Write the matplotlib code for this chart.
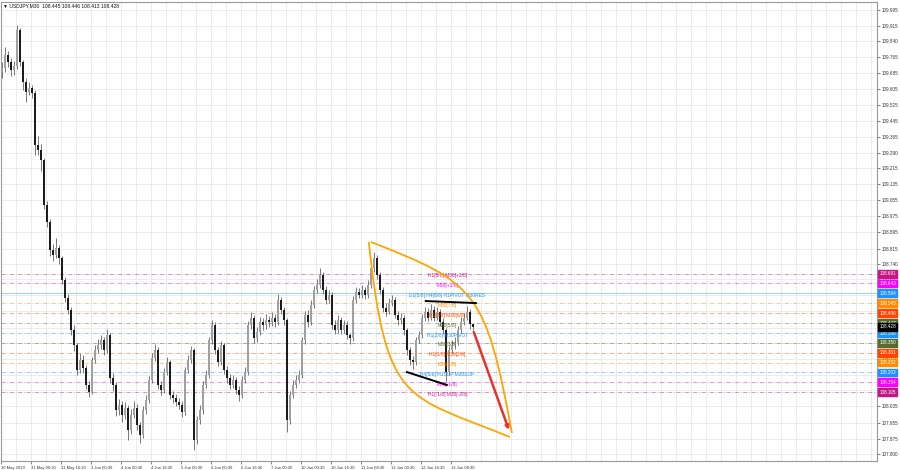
import matplotlib
matplotlib.use('Agg')
import matplotlib.pyplot as plt
import matplotlib.transforms as mtransforms
from matplotlib.path import Path
from matplotlib.patches import PathPatch, FancyArrowPatch

plt.rcParams['font.family'] = ['Liberation Sans', 'DejaVu Sans']

title_text = "\u25bc USDJPY,M30  108.445 108.446 108.413 108.428"

first_open = 109.690
closes = [
    109.708, 109.772, 109.738, 109.698, 109.718, 109.896, 109.738, 109.639, 109.590, 109.609,
    109.585, 109.328, 109.303, 109.253, 109.031, 108.947, 108.808, 108.784, 108.818, 108.769,
    108.660, 108.571, 108.512, 108.413, 108.339, 108.215, 108.265, 108.225, 108.141, 108.106,
    108.265, 108.314, 108.339, 108.364, 108.314, 108.388, 108.176, 108.141, 108.017, 108.042,
    107.993, 108.027, 107.918, 107.993, 108.027, 107.943, 107.894, 108.017, 108.067, 108.166,
    108.275, 108.314, 108.141, 108.116, 108.205, 108.255, 108.092, 108.077, 108.057, 108.042,
    108.007, 108.215, 108.265, 108.314, 107.869, 107.968, 108.017, 108.141, 108.190, 108.364,
    108.438, 108.314, 108.255, 108.339, 108.215, 108.176, 108.141, 108.166, 108.116, 108.092,
    108.166, 108.205, 108.438, 108.472, 108.373, 108.403, 108.452, 108.438, 108.462, 108.452,
    108.472, 108.452, 108.561, 108.512, 108.462, 107.968, 108.092, 108.141, 108.166, 108.190,
    108.364, 108.487, 108.452, 108.537, 108.611, 108.635, 108.685, 108.611, 108.561, 108.586,
    108.438, 108.413, 108.462, 108.413, 108.438, 108.388, 108.373, 108.561, 108.601, 108.586,
    108.611, 108.586, 108.635, 108.719, 108.769, 108.685, 108.611, 108.522, 108.502, 108.546,
    108.561, 108.487, 108.462, 108.472, 108.413, 108.314, 108.265, 108.255, 108.364, 108.388,
    108.472, 108.502, 108.472, 108.512, 108.472, 108.502, 108.452, 108.413, 108.205, 108.314,
    108.339, 108.354, 108.413, 108.452, 108.472, 108.502, 108.445, 108.428,
]
highs = [
    109.740, 109.812, 109.790, 109.760, 109.745, 109.920, 109.905, 109.750, 109.660, 109.640,
    109.625, 109.600, 109.370, 109.330, 109.265, 109.050, 108.960, 108.840, 108.870, 108.835,
    108.780, 108.675, 108.590, 108.525, 108.440, 108.350, 108.300, 108.290, 108.240, 108.160,
    108.280, 108.340, 108.370, 108.390, 108.380, 108.420, 108.400, 108.200, 108.155, 108.070,
    108.060, 108.055, 108.040, 108.020, 108.060, 108.045, 107.960, 108.035, 108.090, 108.185,
    108.300, 108.345, 108.330, 108.160, 108.225, 108.280, 108.265, 108.110, 108.095, 108.075,
    108.060, 108.230, 108.290, 108.335, 108.325, 107.990, 108.040, 108.160, 108.215, 108.380,
    108.460, 108.450, 108.330, 108.360, 108.350, 108.235, 108.195, 108.190, 108.180, 108.135,
    108.185, 108.230, 108.455, 108.500, 108.485, 108.430, 108.475, 108.470, 108.490, 108.480,
    108.500, 108.490, 108.590, 108.575, 108.525, 108.470, 108.110, 108.165, 108.190, 108.215,
    108.380, 108.505, 108.510, 108.560, 108.630, 108.665, 108.719, 108.700, 108.630, 108.610,
    108.600, 108.460, 108.485, 108.475, 108.460, 108.455, 108.400, 108.580, 108.625, 108.620,
    108.635, 108.625, 108.660, 108.740, 108.798, 108.785, 108.700, 108.625, 108.545, 108.570,
    108.585, 108.575, 108.505, 108.495, 108.485, 108.425, 108.330, 108.285, 108.380, 108.410,
    108.490, 108.525, 108.520, 108.540, 108.530, 108.525, 108.515, 108.470, 108.425, 108.335,
    108.365, 108.380, 108.435, 108.475, 108.495, 108.532, 108.515, 108.446,
]
lows = [
    109.660, 109.690, 109.715, 109.670, 109.675, 109.705, 109.720, 109.600, 109.540, 109.575,
    109.560, 109.280, 109.280, 109.200, 109.010, 108.920, 108.780, 108.755, 108.770, 108.740,
    108.640, 108.550, 108.490, 108.390, 108.310, 108.190, 108.200, 108.200, 108.120, 108.080,
    108.095, 108.250, 108.300, 108.320, 108.290, 108.300, 108.150, 108.110, 107.990, 107.995,
    107.960, 107.975, 107.869, 107.900, 107.980, 107.920, 107.854, 107.880, 108.000, 108.050,
    108.150, 108.260, 108.120, 108.090, 108.100, 108.190, 108.070, 108.050, 108.035, 108.020,
    107.985, 107.995, 108.200, 108.250, 107.820, 107.850, 107.950, 108.000, 108.125, 108.175,
    108.345, 108.295, 108.235, 108.240, 108.195, 108.150, 108.120, 108.125, 108.095, 108.060,
    108.075, 108.150, 108.190, 108.420, 108.350, 108.355, 108.390, 108.415, 108.420, 108.430,
    108.435, 108.430, 108.440, 108.490, 108.440, 107.909, 107.950, 108.075, 108.125, 108.150,
    108.175, 108.345, 108.430, 108.440, 108.520, 108.595, 108.620, 108.590, 108.540, 108.545,
    108.420, 108.395, 108.400, 108.395, 108.400, 108.370, 108.345, 108.360, 108.545, 108.570,
    108.570, 108.565, 108.570, 108.620, 108.700, 108.665, 108.590, 108.500, 108.480, 108.490,
    108.530, 108.470, 108.440, 108.445, 108.390, 108.290, 108.240, 108.220, 108.240, 108.350,
    108.375, 108.455, 108.455, 108.460, 108.455, 108.460, 108.435, 108.395, 108.161, 108.190,
    108.300, 108.320, 108.340, 108.400, 108.440, 108.460, 108.420, 108.413,
]

date_labels = ["30 May 2019", "31 May 00:30", "31 May 16:30", "3 Jun 00:30", "4 Jun 00:30",
               "4 Jun 16:30", "5 Jun 00:30", "6 Jun 00:30", "6 Jun 16:30", "7 Jun 00:30",
               "10 Jun 00:30", "10 Jun 16:30", "11 Jun 08:30", "12 Jun 00:30", "12 Jun 16:30",
               "13 Jun 08:30"]
price_ticks = [109.995, 109.915, 109.840, 109.765, 109.685, 109.605, 109.525, 109.445, 109.365,
               109.290, 109.215, 109.135, 109.055, 108.975, 108.895, 108.815, 108.740, 108.665,
               108.585, 108.505, 108.425, 108.350, 108.270, 108.190, 108.115, 108.035, 107.955,
               107.875, 107.800]
# tick labels hidden behind the coloured level boxes in the reference
covered_ticks = [108.585, 108.425, 108.350, 108.190]

level_prices = [108.691, 108.643, 108.594, 108.545, 108.496, 108.447, 108.398,
                108.350, 108.301, 108.252, 108.203, 108.154, 108.105]
level_texts = ["H1[5/8] M30[+2/8]", "M30[+1/8]", "D1[5/8] H4[8/8] H1PIVOT M30RES", "M30[7/8]",
               "H1[3/8] M30[6/8]", "M30[5/8]", "H1[2/8] M30PIVOT", "M30[3/8]",
               "H1[1/8] M30[2/8]", "M30[1/8]", "H4[5/8] H1SUP M30SUP", "M30[-1/8]",
               "H1[-1/8] M30[-2/8]"]
level_colors = ["#C71585", "#FF00FF", "#1E90FF", "#FF8C00", "#FF4500", "#556B2F", "#1E90FF",
                "#556B2F", "#FF4500", "#FF8C00", "#1E90FF", "#FF00FF", "#C71585"]
current_price = 108.428

# hand-drawn chart objects, in (bar, price)
arc_upper = [(123.3, 108.848), (158.3, 108.645), (161.6, 108.606), (170.3, 107.904)]
arc_lower = [(122.6, 108.848), (128.4, 108.037), (134.8, 108.094), (169.6, 107.884)]
trend_upper = [(141.6, 108.556), (158.3, 108.546)]
trend_lower = [(135.3, 108.205), (148.6, 108.141)]
arrow_pts = [(157.6, 108.403), (169.3, 107.919)]
text_bar = 148.8

fig = plt.figure(figsize=(9, 4.7), dpi=100)
ax = fig.add_axes([1 / 900, 9 / 470, 876 / 900, 459 / 470])
ax.set_xlim(0, 292)
ax.set_ylim(107.7652, 110.0345)
ax.set_axisbelow(True)

# axes, ticks, grid
ax.set_xticks([10 * k for k in range(len(date_labels))])
ax.set_xticks([5 * k for k in range(59)], minor=True)
ax.set_xticklabels(date_labels, ha='left', fontsize=3.0, color='#333333')
ax.set_yticks(price_ticks)
ax.set_yticklabels(["" if p in covered_ticks else f"{p:.3f}" for p in price_ticks],
                   fontsize=3.3, color='#333333')
ax.yaxis.tick_right()
ax.tick_params(axis='x', which='major', length=2, pad=1.5, color='#888888')
ax.tick_params(axis='x', which='minor', length=0)
ax.tick_params(axis='y', length=2, pad=1.5, color='#888888')
ax.grid(which='both', color='#e9e9e9', lw=0.6)
for s in ax.spines.values():
    s.set_color('#9a9a9a')
    s.set_linewidth(0.8)

# level lines
for p, c in zip(level_prices, level_colors):
    if p == 108.594:
        ax.axhline(p, color=c, lw=0.6, alpha=0.5, zorder=1)
    else:
        ax.axhline(p, color=c, lw=0.6, alpha=0.55, ls=(0, (5, 2, 1, 2)), zorder=1)

# candles
opens = [first_open] + closes[:-1]
xs = [i + 0.4 for i in range(len(closes))]
ax.vlines(xs, lows, highs, color='#555555', lw=0.55, zorder=2)
for x, o, c in zip(xs, opens, closes):
    lo, hi = min(o, c), max(o, c)
    col = '#a0a0a0' if c >= o else '#1c1c1c'
    ax.bar(x, max(hi - lo, 0.003), bottom=lo, width=0.75, color=col, lw=0, zorder=2.2)

# level texts
for p, t, c in zip(level_prices, level_texts, level_colors):
    ax.text(text_bar, p - 0.010, t, color=c, fontsize=3.5, ha='center', va='center', zorder=4)

# orange arcs
for arc in (arc_upper, arc_lower):
    path = Path(arc, [Path.MOVETO, Path.CURVE4, Path.CURVE4, Path.CURVE4])
    ax.add_patch(PathPatch(path, fc='none', ec='#FFA500', lw=1.3, zorder=5))

# black trend lines
for seg in (trend_upper, trend_lower):
    ax.plot([seg[0][0], seg[1][0]], [seg[0][1], seg[1][1]], color='black', lw=1.4, zorder=5)

# red arrow
ax.add_patch(FancyArrowPatch(arrow_pts[0], arrow_pts[1], arrowstyle='-|>', mutation_scale=5,
                             color='#e8332d', lw=1.8, zorder=6, shrinkA=0, shrinkB=0))

# right price boxes
trans = mtransforms.blended_transform_factory(ax.transAxes, ax.transData)
for p, c in zip(level_prices, level_colors):
    ax.text(1.0025, p, f"{p:.3f}", transform=trans, fontsize=3.3, color='white', ha='left',
            va='center', clip_on=False, zorder=7,
            bbox=dict(boxstyle='square,pad=0.3', fc=c, ec=c))
ax.text(1.0025, current_price, f"{current_price:.3f}", transform=trans, fontsize=3.3,
        color='white', ha='left', va='center', clip_on=False, zorder=8,
        bbox=dict(boxstyle='square,pad=0.3', fc='black', ec='black'))

fig.text(3 / 900, 1 - 5.5 / 470, title_text, fontsize=3.6, color='#111111', va='center', ha='left')

fig.savefig('out.png', dpi=100, facecolor='white')
